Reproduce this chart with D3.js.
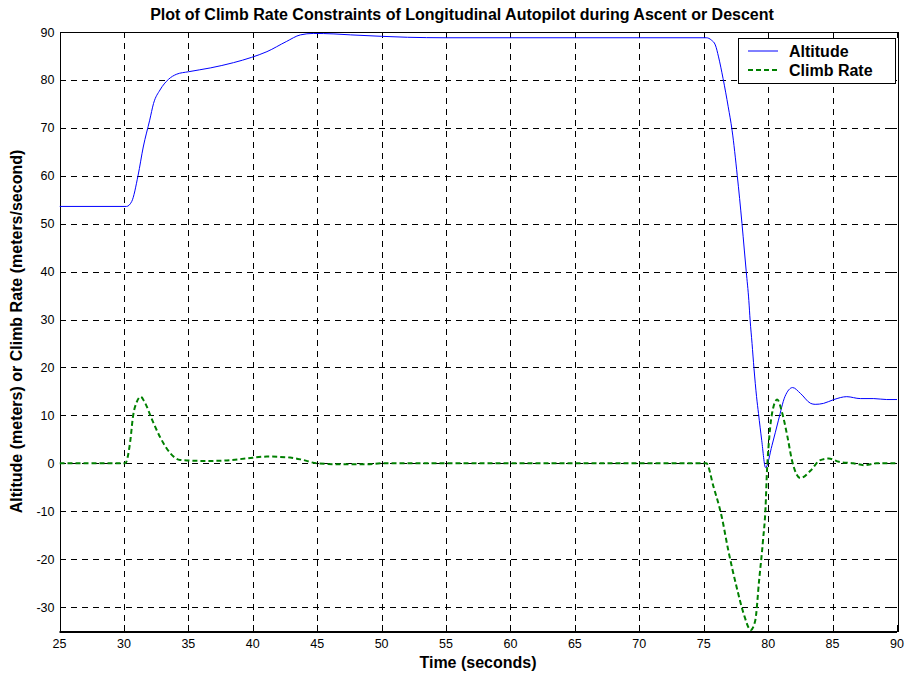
<!DOCTYPE html>
<html lang="en">
<head>
<meta charset="utf-8">
<script src="https://d3js.org/d3.v7.min.js"></script>
<title>Climb Rate Constraints</title>
<style>
	body { margin:0; background:#fff; }
	text { font-family:"Liberation Sans", Arial, sans-serif; }
	.grid line { stroke:#000; stroke-width:1; stroke-dasharray:6,5; shape-rendering:crispEdges; }
	.tick-lbl { font-size:12.5px; fill:#000; }
	.lbl { font-size:16px; font-weight:bold; fill:#000; }
</style>
</head>
<body>
<script>
// time (s) and values
var altT = [25, 30.2, 30.6, 31.1, 31.5, 32.0, 32.3, 32.8, 33.45, 34.1, 35.0, 36.7, 38.5, 39.9, 41.1, 42.6, 43.7, 44.7, 46.3, 47.6, 50, 52, 55, 75.2, 75.6, 75.9, 76.15, 76.5, 76.9, 77.2, 77.6, 77.97, 78.15, 78.3, 78.5, 78.6, 78.75, 78.9, 79.1, 79.25, 79.5, 79.8, 80.3, 80.8, 81.3, 81.9, 82.5, 83.3, 83.65, 84.3, 85.1, 86.1, 87.15, 88.2, 89.2, 90];
var altV = [53.6, 53.6, 54.6, 60.1, 66, 71.6, 75.1, 77.9, 80.1, 81.2, 81.7, 82.5, 83.6, 84.7, 85.9, 88, 89.4, 89.7, 89.6, 89.4, 89.1, 88.9, 88.8, 88.8, 88.3, 87.3, 84.8, 80.3, 74.4, 69.5, 60.1, 50, 44.5, 40, 34, 29.9, 25, 19.8, 13.9, 10.4, 4.8, -0.9, 3.75, 9.0, 13.9, 15.8, 14.6, 12.5, 12.3, 12.5, 13.3, 13.9, 13.5, 13.5, 13.3, 13.3];

var climbT = [25, 30.1, 30.5, 30.7, 31.0, 31.3, 31.6, 32.2, 32.8, 33.6, 34.35, 35.9, 36.9, 38.0, 39.5, 41.1, 42.9, 43.9, 44.95, 46.8, 48.85, 50, 75.2, 75.76, 76.4, 76.9, 77.55, 78.1, 78.65, 79.0, 79.3, 79.6, 79.8, 79.9, 80.03, 80.3, 80.7, 81.1, 81.5, 81.85, 82.5, 83.3, 84.0, 84.7, 85.5, 86.6, 87.5, 88.4, 90];
var climbV = [0, 0, 4.8, 9.7, 12.8, 13.9, 12.8, 9.0, 5.5, 2.1, 0.7, 0.5, 0.5, 0.6, 1.0, 1.4, 1.2, 0.7, 0, -0.2, -0.2, 0, 0, -4.9, -11.2, -18.1, -25.8, -31.4, -34.8, -32.8, -24.4, -16.1, -9.1, -2.1, 3.5, 10.4, 13.3, 10.4, 5.5, 0.6, -3.1, -1.5, 0.6, 1.0, 0.3, 0, -0.4, 0, 0];

var xTicks = d3.range(25, 91, 5);
var yTicks = d3.range(-30, 91, 10);
var legendNames = ["Altitude", "Climb Rate"];

var width = 905, height = 675;
var L = 59.5, R = 897, T = 32, B = 631;

var x = d3.scaleLinear().domain([25, 90]).range([L, R]);
var y = d3.scaleLinear().domain([-35, 90]).range([B, T]);

var svg = d3.select("body").append("svg")
	.attr("width", width)
	.attr("height", height);

svg.append("defs").append("clipPath").attr("id", "clip")
	.append("rect").attr("x", L).attr("y", T).attr("width", R - L).attr("height", B - T);

// grid
var grid = svg.append("g").attr("class", "grid");
grid.selectAll(".gx").data(xTicks.slice(1, -1)).enter().append("line")
	.attr("x1", function(d){ return Math.round(x(d)) + 0.5; })
	.attr("x2", function(d){ return Math.round(x(d)) + 0.5; })
	.attr("y1", T).attr("y2", B);
grid.selectAll(".gy").data(yTicks).enter().append("line")
	.attr("y1", function(d){ return Math.round(y(d)) + 0.5; })
	.attr("y2", function(d){ return Math.round(y(d)) + 0.5; })
	.attr("x1", L).attr("x2", R);

// frame
svg.append("rect")
	.attr("x", Math.round(L) + 0.5).attr("y", T + 0.5)
	.attr("width", Math.round(R - L)).attr("height", B - T)
	.attr("fill", "none").attr("stroke", "#000").attr("stroke-width", 1);
svg.append("line").attr("x1", L).attr("x2", R).attr("y1", B + 1).attr("y2", B + 1)
	.attr("stroke", "#000").attr("stroke-width", 2);

// inward ticks
var tk = svg.append("g").attr("stroke", "#000").attr("shape-rendering", "crispEdges");
xTicks.forEach(function(d){
	var px = Math.round(x(d)) + 0.5;
	tk.append("line").attr("x1", px).attr("x2", px).attr("y1", B).attr("y2", B - 6);
	tk.append("line").attr("x1", px).attr("x2", px).attr("y1", T).attr("y2", T + 6);
});
yTicks.forEach(function(d){
	var py = Math.round(y(d)) + 0.5;
	tk.append("line").attr("x1", L).attr("x2", L + 6).attr("y1", py).attr("y2", py);
	tk.append("line").attr("x1", R).attr("x2", R - 6).attr("y1", py).attr("y2", py);
});

// tick labels
svg.selectAll(".xl").data(xTicks).enter().append("text")
	.attr("class", "tick-lbl")
	.attr("x", function(d){ return x(d); })
	.attr("y", B + 17)
	.attr("text-anchor", "middle")
	.text(function(d){ return d; });
svg.selectAll(".yl").data(yTicks).enter().append("text")
	.attr("class", "tick-lbl")
	.attr("x", L - 5)
	.attr("y", function(d){ return y(d) + 4.5; })
	.attr("text-anchor", "end")
	.text(function(d){ return d; });

// series
var line = d3.line().curve(d3.curveMonotoneX)
	.x(function(d){ return x(d[0]); })
	.y(function(d){ return y(d[1]); });

var plot = svg.append("g").attr("clip-path", "url(#clip)");
plot.append("path")
	.attr("d", line(altT.map(function(t, i){ return [t, altV[i]]; })))
	.attr("fill", "none").attr("stroke", "#0000ff").attr("stroke-width", 1);
plot.append("path")
	.attr("d", line(climbT.map(function(t, i){ return [t, climbV[i]]; })))
	.attr("fill", "none").attr("stroke", "#008000").attr("stroke-width", 2)
	.attr("stroke-dasharray", "5,3");

// legend
var lg = svg.append("g");
lg.append("rect").attr("x", 738.5).attr("y", 38.5).attr("width", 157).attr("height", 45)
	.attr("fill", "#fff").attr("stroke", "#000");
legendNames.forEach(function(n, i){
	var ly = 51 + i * 19;
	lg.append("line").attr("x1", 748).attr("x2", 778).attr("y1", ly).attr("y2", ly)
		.attr("stroke", i ? "#008000" : "#0000ff")
		.attr("stroke-width", i ? 2 : 1)
		.attr("stroke-dasharray", i ? "5,3" : null);
	lg.append("text").attr("class", "lbl").attr("x", 789).attr("y", ly + 6).text(n);
});

// titles
svg.append("text").attr("class", "lbl")
	.attr("x", 462).attr("y", 20).attr("text-anchor", "middle")
	.text("Plot of Climb Rate Constraints of Longitudinal Autopilot during Ascent or Descent");
svg.append("text").attr("class", "lbl")
	.attr("x", 478).attr("y", 668).attr("text-anchor", "middle")
	.text("Time (seconds)");
svg.append("text").attr("class", "lbl")
	.attr("transform", "translate(22," + ((T + B) / 2) + ") rotate(-90)")
	.attr("text-anchor", "middle")
	.text("Altitude (meters) or Climb Rate (meters/second)");
</script>
</body>
</html>
